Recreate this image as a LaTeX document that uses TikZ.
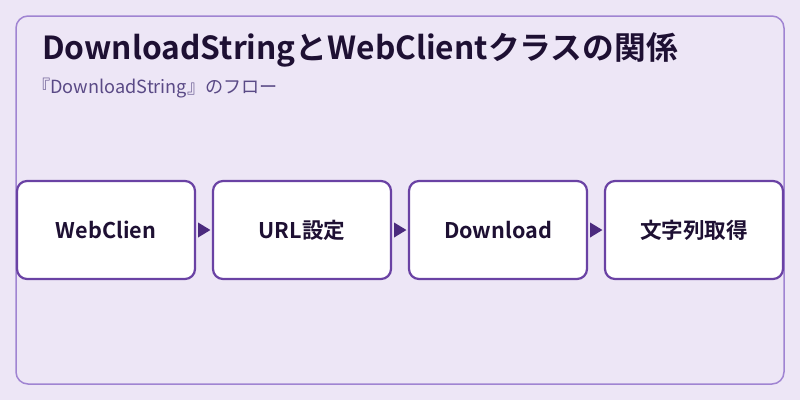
\documentclass[tikz,border=0pt]{standalone}
\usepackage{fontspec}
\setmainfont{Noto Sans CJK JP}
\newfontfamily\jpbold{Noto Sans CJK JP Bold}
\usetikzlibrary{positioning,calc}
\definecolor{bgc}{HTML}{EDE6F6}
\definecolor{framec}{HTML}{A084D2}
\definecolor{boxc}{HTML}{6A42A4}
\definecolor{arrc}{HTML}{4B2A7E}
\definecolor{txtc}{HTML}{1E1033}
\definecolor{subc}{HTML}{5A4A86}
\tikzset{
  stepbox/.style={draw=boxc, line width=2.2pt*0.75, fill=white, rounded corners=7.5pt,
    minimum width=178*0.75pt, minimum height=98*0.75pt, inner sep=0pt,
    font=\jpbold\fontsize{16.2}{19}\selectfont, text=txtc},
  flowarrow/.style={fill=arrc, draw=none},
}
\begin{document}
\begin{tikzpicture}[x=0.75pt,y=-0.75pt]
\fill[bgc] (0,0) rectangle (800,400);
\useasboundingbox (0,0) rectangle (800,400);
\draw[framec, line width=1.5pt*0.75, rounded corners=9pt] (16,16) rectangle (784,384);
\node[anchor=base west, inner sep=0pt, text=txtc, font=\jpbold\fontsize{23.8}{28}\selectfont] (title) at (42,59) {DownloadStringとWebClientクラスの関係};
\node[anchor=west, inner sep=0pt, text=subc, font=\fontsize{13.6}{16}\selectfont] (sub) at (32,88) {『DownloadString』のフロー};
\node[stepbox] (b1) at (106,230) {\raisebox{-1.5pt}{WebClien}};
\node[stepbox] (b2) at (302,230) {\raisebox{-1.5pt}{URL設定}};
\node[stepbox] (b3) at (498,230) {\raisebox{-1.5pt}{Download}};
\node[stepbox] (b4) at (694,230) {\raisebox{-1.5pt}{文字列取得}};
\foreach \a/\b in {b1/b2,b2/b3,b3/b4}{
  \path (\a.east) ++(2,0) coordinate (t1) (\b.west) ++(-1.5,0) coordinate (t2);
  \fill[flowarrow] ($(t1)+(0,-7.5)$) -- (t2) -- ($(t1)+(0,7.5)$) -- cycle;
}
\end{tikzpicture}
\end{document}
